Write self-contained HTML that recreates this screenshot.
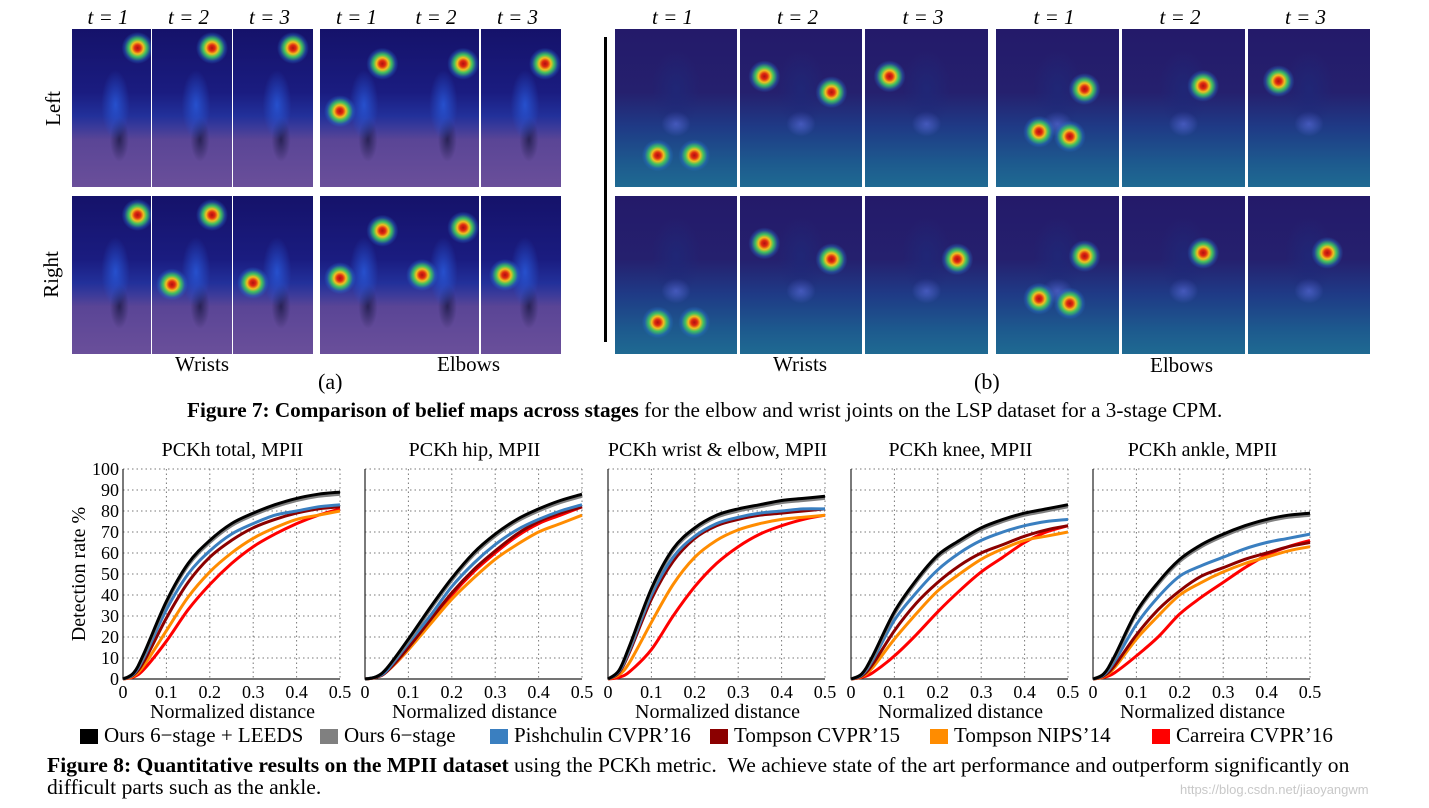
<!DOCTYPE html>
<html><head><meta charset="utf-8">
<style>
body{margin:0;width:1429px;height:808px;background:#fff;position:relative;overflow:hidden;font-family:"Liberation Serif",serif;color:#000}
.abs{position:absolute}
.img{position:absolute;overflow:hidden}
.lbl{position:absolute;font-size:21px;font-style:italic;white-space:nowrap}
.txt{position:absolute;font-size:21px;white-space:nowrap}
</style></head><body>
<div id="topfig"></div>
<div class="abs" style="left:604px;top:37px;width:3px;height:305px;background:#000"></div>
<div class="txt" style="left:36px;top:96px;transform:rotate(-90deg);transform-origin:center">Left</div>
<div class="txt" style="left:28px;top:262px;transform:rotate(-90deg)">Right</div>
<div class="txt" style="left:175px;top:352px">Wrists</div>
<div class="txt" style="left:437px;top:352px">Elbows</div>
<div class="txt" style="left:318px;top:369px;font-size:22px">(a)</div>
<div class="txt" style="left:773px;top:352px">Wrists</div>
<div class="txt" style="left:1150px;top:353px">Elbows</div>
<div class="txt" style="left:974px;top:369px;font-size:22px">(b)</div>
<div class="txt" style="left:187px;top:398px;font-size:21.2px"><b>Figure 7: Comparison of belief maps across stages</b> for the elbow and wrist joints on the LSP dataset for a 3-stage CPM.</div>

<svg id="charts" class="abs" style="left:0;top:0" width="1429" height="808"></svg>

<div id="legend"></div>
<div class="txt" style="left:47px;top:754px;font-size:21.6px;line-height:22px"><b>Figure 8: Quantitative results on the MPII dataset</b> using the PCKh metric. &nbsp;We achieve state of the art performance and outperform significantly on<br>difficult parts such as the ankle.</div>
<div class="txt" style="left:1180px;top:782px;font-size:13px;color:#c8c8c8;font-family:'Liberation Sans',sans-serif">https://blog.csdn.net/jiaoyangwm</div>

<script>
const topFig = document.getElementById('topfig');
const aX=[72,152,233,320,400,481], aW=[79,80,80,80,79,80];
const bX=[615,740,865,996,1122,1248], bW=[122,122,123,123,123,122];
const rowsY=[29,196], rowH=158;
const blobsA=[[[0.83,0.12]],[[0.75,0.12]],[[0.75,0.12]],[[0.78,0.22],[0.25,0.52]],[[0.8,0.22]],[[0.8,0.22]],
 [[0.83,0.12]],[[0.75,0.12],[0.25,0.56]],[[0.25,0.55]],[[0.78,0.22],[0.25,0.52]],[[0.8,0.2],[0.28,0.5]],[[0.3,0.5]]];
const blobsB=[[[0.35,0.8],[0.65,0.8]],[[0.75,0.4],[0.2,0.3]],[[0.2,0.3]],[[0.72,0.38],[0.35,0.65],[0.6,0.68]],[[0.66,0.36]],[[0.25,0.33]],
 [[0.35,0.8],[0.65,0.8]],[[0.75,0.4],[0.2,0.3]],[[0.75,0.4]],[[0.72,0.38],[0.35,0.65],[0.6,0.68]],[[0.66,0.36]],[[0.65,0.36]]];
function heat(b){return b.map(p=>`radial-gradient(circle at ${p[0]*100}% ${p[1]*100}%, #b01010 0, #e02a10 3px, #f0c020 6px, #40c060 9px, rgba(40,120,200,0.4) 13px, transparent 16px)`).join(',');}
['a','b'].forEach(set=>{
  const xs=set==='a'?aX:bX, ws=set==='a'?aW:bW, bl=set==='a'?blobsA:blobsB;
  rowsY.forEach((y,r)=>{xs.forEach((x,i)=>{
    const d=document.createElement('div');
    d.className='img';
    
    
    d.style.left=x+'px';d.style.top=y+'px';d.style.width=ws[i]+'px';d.style.height=rowH+'px';
    const person=set==='a'?'radial-gradient(ellipse 18% 22% at 55% 48%, rgba(40,90,220,0.8), transparent), radial-gradient(ellipse 12% 14% at 60% 70%, rgba(20,20,60,0.7), transparent)'
      :'radial-gradient(ellipse 20% 25% at 50% 38%, rgba(30,40,120,0.8), transparent), radial-gradient(ellipse 12% 8% at 50% 60%, rgba(90,110,220,0.7), transparent)';
    const bg=set==='a'?'linear-gradient(180deg,#15126a 0%,#1a1c80 40%,#22309a 55%,#3a3a9a 62%,#5a4596 70%,#6a4f9a 100%)':'linear-gradient(180deg,#241a6a 0%,#25206e 40%,#1f3a86 62%,#1d5a8e 85%,#1f6a92 100%)';
    d.style.backgroundImage=heat(bl[r*6+i])+','+person+','+bg;
    topFig.appendChild(d);
    if(r===0){
      const t=document.createElement('div');
      t.className='lbl';
      
      
      t.textContent='t = '+(i%3+1);
      t.style.left=(x+ws[i]/2-24)+'px';t.style.top='5px';
      topFig.appendChild(t);
    }
  });});
});

// ---- charts data ----
const xVals=[0,0.025,0.05,0.1,0.15,0.2,0.25,0.3,0.35,0.4,0.45,0.5];
const panelTitles=['PCKh total, MPII','PCKh hip, MPII','PCKh wrist & elbow, MPII','PCKh knee, MPII','PCKh ankle, MPII'];
const yTicks=[0,10,20,30,40,50,60,70,80,90,100];
const xTicks=[0,0.1,0.2,0.3,0.4,0.5];
const xTickLabels=['0','0.1','0.2','0.3','0.4','0.5'];
const seriesNames=['Ours 6−stage + LEEDS','Ours 6−stage','Pishchulin CVPR’16','Tompson CVPR’15','Tompson NIPS’14','Carreira CVPR’16'];
const seriesColors=['#000000','#808080','#3a7fc0','#8b0000','#ff8c00','#ff0000'];
const totalLeeds=[0,3,13,37,55,66,74,79,83,86,88,89];
const totalOurs=[0,3,12,36,54,65,73,78,82,85,87,88];
const totalPish=[0,2.5,11,33,50,61,69,74,78,80,82,83];
const totalTomp15=[0,2,9,29,46,58,66,72,76,79,81,82];
const totalTomp14=[0,1.5,7,23,39,51,60,67,72,76,78,80];
const totalCarr=[0,1,5,18,33,45,55,63,69,74,78,81];
const hipLeeds=[0,1,5,19,34,48,60,69,76,81,85,88];
const hipOurs=[0,1,5,18,33,47,59,68,75,80,84,87];
const hipPish=[0,1,4,17,30,44,55,64,71,76,80,83];
const hipTomp15=[0,0.8,3.5,15,28,41,52,61,69,75,79,82];
const hipTomp14=[0,0.8,3.5,14,26,38,48,57,64,70,74,78];
const hipCarr=[0,0.8,3.5,14,27,40,51,60,68,74,78,82];
const wristLeeds=[0,4,16,43,62,72,78,81,83,85,86,87];
const wristOurs=[0,4,15,42,61,71,77,80,82,84,85,86];
const wristPish=[0,3.5,14,40,58,68,74,77,79,80,81,81];
const wristTomp15=[0,3,13,38,56,67,73,76,78,79,80,81];
const wristTomp14=[0,2,8,27,45,58,66,71,74,76,77,78];
const wristCarr=[0,0.8,3.5,14,30,44,55,63,69,73,76,78];
const kneeLeeds=[0,2.5,11,32,47,59,66,72,76,79,81,83];
const kneeOurs=[0,2.5,10,31,46,58,65,71,75,78,80,82];
const kneePish=[0,2,9,28,41,52,60,66,70,73,75,76];
const kneeTomp15=[0,1.5,7,23,36,46,54,60,64,68,71,73];
const kneeTomp14=[0,1.2,5.5,19,31,42,50,57,62,66,68,70];
const kneeCarr=[0,0.8,3,11,21,32,42,51,58,65,70,73];
const ankleLeeds=[0,2.5,11,32,46,57,64,69,73,76,78,79];
const ankleOurs=[0,2.5,10,31,45,56,63,68,72,75,77,78];
const anklePish=[0,2,8.5,26,39,49,54,58,62,65,67,69];
const ankleTomp15=[0,1.5,6.5,21,33,42,49,53,57,60,63,65];
const ankleTomp14=[0,1.2,5.5,19,30,40,46,51,55,58,61,63];
const ankleCarr=[0,0.8,3,11,20,31,39,46,53,59,63,66];
const panelSeries=[
 [totalLeeds,totalOurs,totalPish,totalTomp15,totalTomp14,totalCarr],
 [hipLeeds,hipOurs,hipPish,hipTomp15,hipTomp14,hipCarr],
 [wristLeeds,wristOurs,wristPish,wristTomp15,wristTomp14,wristCarr],
 [kneeLeeds,kneeOurs,kneePish,kneeTomp15,kneeTomp14,kneeCarr],
 [ankleLeeds,ankleOurs,anklePish,ankleTomp15,ankleTomp14,ankleCarr]];

const svg=document.getElementById('charts');
const NS='http://www.w3.org/2000/svg';
function el(tag,attrs,parent){const e=document.createElementNS(NS,tag);for(const k in attrs)e.setAttribute(k,attrs[k]);(parent||svg).appendChild(e);return e;}
const panelLeft=[123,365,608,851,1093], plotW=217, plotTop=469, plotH=210;
function spline(pts){let d='M'+pts[0][0]+','+pts[0][1];
  for(let i=0;i<pts.length-1;i++){const p0=pts[Math.max(0,i-1)],p1=pts[i],p2=pts[i+1],p3=pts[Math.min(pts.length-1,i+2)];
    const c1=[p1[0]+(p2[0]-p0[0])/6,p1[1]+(p2[1]-p0[1])/6],c2=[p2[0]-(p3[0]-p1[0])/6,p2[1]-(p3[1]-p1[1])/6];
    d+=` C${c1[0].toFixed(1)},${c1[1].toFixed(1)} ${c2[0].toFixed(1)},${c2[1].toFixed(1)} ${p2[0].toFixed(1)},${p2[1].toFixed(1)}`;}
  return d;}
panelLeft.forEach((L,p)=>{
  const g=el('g',{});
  
  
  const xS=v=>L+v/0.5*plotW, yS=v=>plotTop+plotH-v/100*plotH;
  yTicks.forEach(t=>{if(t>0&&t<100){const l=el('line',{x1:L,x2:L+plotW,y1:yS(t),y2:yS(t),stroke:'#777','stroke-width':1,'stroke-dasharray':'1.5 3'},g);}});
  xTicks.forEach(t=>{if(t>0&&t<0.5){const l=el('line',{x1:xS(t),x2:xS(t),y1:plotTop,y2:plotTop+plotH,stroke:'#777','stroke-width':1,'stroke-dasharray':'1.5 3'},g);}});
  el('line',{x1:L,x2:L+plotW,y1:plotTop,y2:plotTop,stroke:'#777','stroke-width':1,'stroke-dasharray':'1.5 3'},g);
  el('line',{x1:L+plotW,x2:L+plotW,y1:plotTop,y2:plotTop+plotH,stroke:'#777','stroke-width':1,'stroke-dasharray':'1.5 3'},g);
  const ax=el('path',{d:`M${L},${plotTop} V${plotTop+plotH} H${L+plotW}`,fill:'none',stroke:'#222','stroke-width':1.2},g);
  
  for(let s=5;s>=0;s--){
    const pts=xVals.map((x,i)=>[xS(x),yS(panelSeries[p][s][i])]);
    const path=el('path',{d:spline(pts),fill:'none',stroke:seriesColors[s],'stroke-width':3},g);
    
    
  }
  if(p===0){yTicks.forEach(t=>{const tx=el('text',{x:L-4,y:yS(t)+6,'text-anchor':'end','font-size':18,'font-family':'Liberation Serif, serif'},g);tx.textContent=t;});
    const yl=el('text',{x:0,y:0,transform:`translate(85,${plotTop+plotH/2}) rotate(-90)`,'text-anchor':'middle','font-size':20,'font-family':'Liberation Serif, serif'},g);yl.textContent='Detection rate %';}
  xTicks.forEach((t,i)=>{const tx=el('text',{x:xS(t),y:698,'text-anchor':'middle','font-size':18,'font-family':'Liberation Serif, serif'},g);tx.textContent=xTickLabels[i];});
  const xl=el('text',{x:L+plotW/2+1,y:718,'text-anchor':'middle','font-size':20,'font-family':'Liberation Serif, serif'},g);xl.textContent='Normalized distance';
  const tt=el('text',{x:L+plotW/2+1,y:456,'text-anchor':'middle','font-size':20,'font-family':'Liberation Serif, serif'},g);tt.textContent=panelTitles[p];
});
const legendX=[80,320,490,710,930,1152];
const leg=document.getElementById('legend');
seriesNames.forEach((n,i)=>{
  const sw=document.createElement('div');
  
  
  sw.style.cssText=`position:absolute;left:${legendX[i]}px;top:729px;width:18px;height:15px;background:${seriesColors[i]}`;
  leg.appendChild(sw);
  const t=document.createElement('div');
  
  
  t.className='txt';t.textContent=n;
  t.style.left=(legendX[i]+24)+'px';t.style.top='723px';
  leg.appendChild(t);
});
</script>
</body></html>
